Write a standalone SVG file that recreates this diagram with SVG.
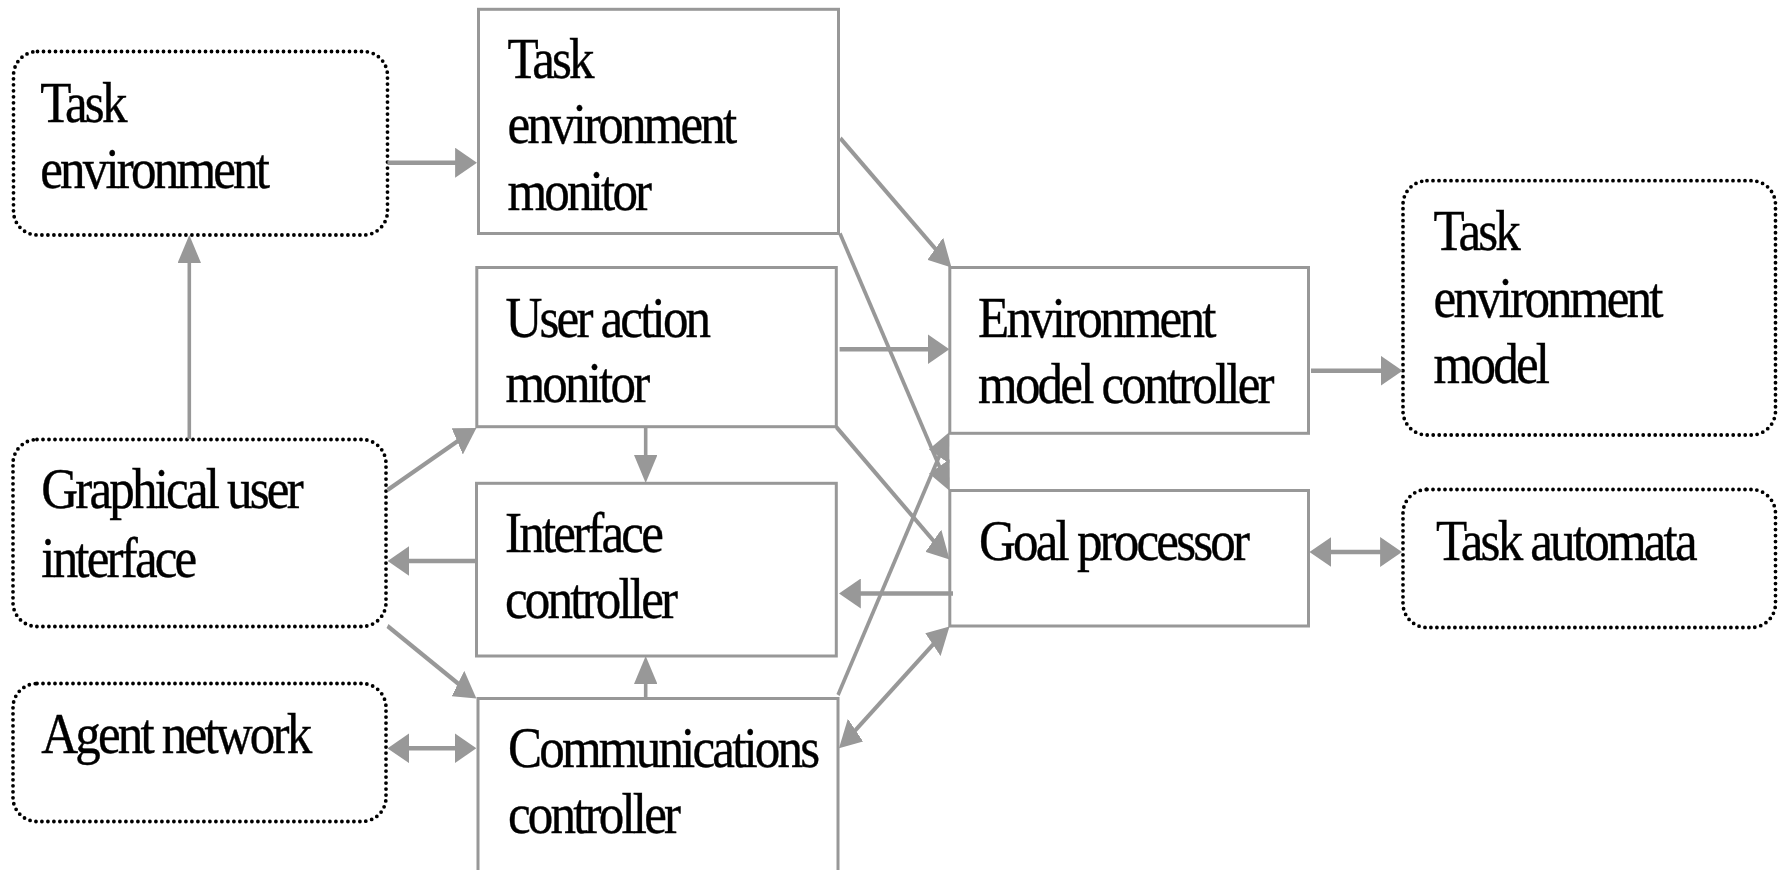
<svg xmlns="http://www.w3.org/2000/svg" width="1788" height="870" viewBox="0 0 1788 870">
  <style>
    .box { fill: #ffffff; stroke: #989898; stroke-width: 3; }
    .ext { fill: #ffffff; stroke: #000000; stroke-width: 3.8; stroke-dasharray: 0 6; stroke-linecap: round; }
    .lbl { font-family: "Liberation Serif", "Times New Roman", serif; font-size: 58px; letter-spacing: -3.2px; fill: #000000; stroke: #000000; stroke-width: 0.4; }
    .con { fill: none; stroke: #989898; stroke-width: 4.6; }
    .one { marker-end: url(#head); }
    .two { marker-start: url(#head); marker-end: url(#head); }
  </style>
  <defs>
    <marker id="head" markerUnits="userSpaceOnUse" markerWidth="28" markerHeight="30" refX="14" refY="15" orient="auto-start-reverse">
      <path d="M0,0 L28,15 L0,30 Z" fill="#989898"/>
    </marker>
  </defs>

  <rect width="1788" height="870" fill="#ffffff"/>

  <!-- external elements (dotted) -->
  <g id="task-environment">
    <rect class="ext" x="13.5" y="51.5" width="374" height="183.5" rx="24" ry="24"/>
    <g transform="scale(0.88 1)">
      <text class="lbl" x="45.7" y="121.7">Task</text>
      <text class="lbl" x="45.7" y="188">environment</text>
    </g>
  </g>
  <g id="graphical-user-interface">
    <rect class="ext" x="13" y="439.5" width="373" height="187" rx="24" ry="24"/>
    <g transform="scale(0.88 1)">
      <text class="lbl" x="46.9" y="508.3">Graphical user</text>
      <text class="lbl" x="46.9" y="576.7">interface</text>
    </g>
  </g>
  <g id="agent-network">
    <rect class="ext" x="13" y="683.5" width="373" height="138" rx="24" ry="24"/>
    <g transform="scale(0.88 1)">
      <text class="lbl" x="46.9" y="753.3">Agent network</text>
    </g>
  </g>
  <g id="task-environment-model">
    <rect class="ext" x="1403" y="180.7" width="372.5" height="254.3" rx="24" ry="24"/>
    <g transform="scale(0.88 1)">
      <text class="lbl" x="1629.1" y="250">Task</text>
      <text class="lbl" x="1629.1" y="316.7">environment</text>
      <text class="lbl" x="1629.1" y="383.3">model</text>
    </g>
  </g>
  <g id="task-automata">
    <rect class="ext" x="1403" y="489.5" width="372.5" height="138" rx="24" ry="24"/>
    <g transform="scale(0.88 1)">
      <text class="lbl" x="1631.8" y="560">Task automata</text>
    </g>
  </g>

  <!-- agent components -->
  <g id="task-environment-monitor">
    <rect class="box" x="478.5" y="9.3" width="360" height="224.2"/>
    <g transform="scale(0.88 1)">
      <text class="lbl" x="576.6" y="78.3">Task</text>
      <text class="lbl" x="576.6" y="143.3">environment</text>
      <text class="lbl" x="576.6" y="210">monitor</text>
    </g>
  </g>
  <g id="user-action-monitor">
    <rect class="box" x="476.8" y="267.5" width="359.5" height="159.2"/>
    <g transform="scale(0.88 1)">
      <text class="lbl" x="574.4" y="336.7">User action</text>
      <text class="lbl" x="574.4" y="401.7">monitor</text>
    </g>
  </g>
  <g id="interface-controller">
    <rect class="box" x="476.5" y="483.3" width="359.8" height="172.7"/>
    <g transform="scale(0.88 1)">
      <text class="lbl" x="573.9" y="551.7">Interface</text>
      <text class="lbl" x="573.9" y="618.3">controller</text>
    </g>
  </g>
  <g id="communications-controller">
    <rect class="box" x="478" y="698.5" width="360" height="180"/>
    <g transform="scale(0.88 1)">
      <text class="lbl" x="577.3" y="766.7">Communications</text>
      <text class="lbl" x="577.3" y="833.3">controller</text>
    </g>
  </g>
  <g id="environment-model-controller">
    <rect class="box" x="949.8" y="267.5" width="358.7" height="165.8"/>
    <g transform="scale(0.88 1)">
      <text class="lbl" x="1111.4" y="336.7">Environment</text>
      <text class="lbl" x="1111.4" y="403.3">model controller</text>
    </g>
  </g>
  <g id="goal-processor">
    <rect class="box" x="949.8" y="490.5" width="358.7" height="135.5"/>
    <g transform="scale(0.88 1)">
      <text class="lbl" x="1112.5" y="560">Goal processor</text>
    </g>
  </g>

  <!-- connectors (drawn in a horizontally condensed space) -->
  <g id="connectors" transform="scale(0.78 1)">
    <path class="con one" d="M496.8,162.7 H597.5"/>
    <path class="con one" d="M242.7,439 V249"/>
    <path class="con one" d="M1077.4,138.3 L1209.5,258.1"/>
    <path class="con one" d="M1076.9,233.5 L1211,478.7"/>
    <path class="con one" d="M1076.4,349.3 H1203.2"/>
    <path class="con one" d="M1680.8,370.7 H1784.1"/>
    <path class="con one" d="M496.8,490 L598.5,434.7"/>
    <path class="con one" d="M827.8,427.5 V469"/>
    <path class="con one" d="M610.8,561 H510.8"/>
    <path class="con one" d="M1072.2,427 L1207,550.1"/>
    <path class="con one" d="M1221.8,593.5 H1089.6"/>
    <path class="con one" d="M496.8,626 L599,691"/>
    <path class="con one" d="M827.8,699 V670"/>
    <path class="con two" d="M510.8,748.3 H596.8"/>
    <path class="con one" d="M1074.4,695 L1210.6,444.3"/>
    <path class="con two" d="M1086.2,739.2 L1206.7,635.6"/>
    <path class="con two" d="M1692.8,552 H1783.4"/>
  </g>
</svg>
